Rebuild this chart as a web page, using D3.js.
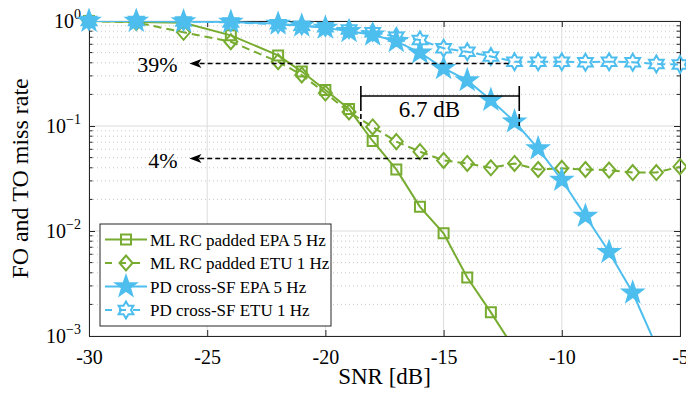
<!DOCTYPE html>
<html>
<head>
<meta charset="utf-8">
<script src="https://cdn.jsdelivr.net/npm/d3@7"></script>
<style>
  body { margin: 0; background: #fff; }
  text { font-family: "Liberation Serif", serif; fill: #000; }
</style>
</head>
<body>
<div id="chart"></div>
<script>
// values
const xTicks = [-30, -25, -20, -15, -10, -5];
const yTicks = [1e-3, 1e-2, 1e-1, 1];
const yTickExp = ["\u22123", "\u22122", "\u22121", "0"];

const snrMlEpa = [-30, -28, -26, -24, -22, -21, -20, -19, -18, -17, -16, -15, -14, -13, -12];
const mlEpa = [1, 0.98, 0.96, 0.73, 0.47, 0.33, 0.22, 0.145, 0.072, 0.0386, 0.017, 0.0095, 0.0036, 0.00168, 0.00075];

const snrMlEtu = [-30, -28, -26, -24, -22, -21, -20, -19, -18, -17, -16, -15, -14, -13, -12, -11, -10, -9, -8, -7, -6, -5];
const mlEtu = [1, 0.97, 0.78, 0.635, 0.41, 0.306, 0.206, 0.136, 0.098, 0.071, 0.057, 0.047, 0.044, 0.040, 0.044, 0.0385, 0.0395, 0.0385, 0.038, 0.036, 0.036, 0.041];

const snrPdEpa = [-30, -28, -26, -24, -22, -21, -20, -19, -18, -17, -16, -15, -14, -13, -12, -11, -10, -9, -8, -7, -6];
const pdEpa = [1, 1, 0.99, 0.98, 0.94, 0.9, 0.86, 0.8, 0.74, 0.64, 0.5, 0.355, 0.272, 0.177, 0.11, 0.061, 0.0306, 0.0139, 0.0063, 0.00258, 0.0008];

const snrPdEtu = [-30, -28, -26, -24, -22, -21, -20, -19, -18, -17, -16, -15, -14, -13, -12, -11, -10, -9, -8, -7, -6, -5];
const pdEtu = [1, 1, 0.99, 0.97, 0.93, 0.9, 0.87, 0.83, 0.78, 0.71, 0.66, 0.55, 0.51, 0.46, 0.41, 0.41, 0.41, 0.405, 0.41, 0.405, 0.39, 0.385];

const legendLabels = ["ML RC padded EPA 5 Hz", "ML RC padded ETU 1 Hz", "PD cross-SF EPA 5 Hz", "PD cross-SF ETU 1 Hz"];

// annotations: [label, level, from snr, to snr]
const arrowLabels = ["39%", "4%"];
const arrowLevels = [0.394, 0.049];
const arrowFrom = [-12.25, -15.65];
const arrowTo = [-25.75, -25.75];
const gapSnr = [-18.5, -11.8];
const gapLabel = "6.7 dB";

const width = 686, height = 398;
const margin = { top: 21, right: 6, bottom: 62, left: 89 };
const green = "#77AC30", blue = "#4DBEEE";

const svg = d3.select("#chart").append("svg")
  .attr("width", width)
  .attr("height", height);

const x = d3.scaleLinear()
  .domain([-30, -5])
  .range([margin.left, width - margin.right]);

const y = d3.scaleLog()
  .domain([1e-3, 1])
  .range([height - margin.bottom, margin.top]);

const minorY = [];
[-3, -2, -1].forEach(k => { for (let m = 2; m < 10; m++) minorY.push(m * Math.pow(10, k)); });

// grid
const grid = svg.append("g");
grid.selectAll(".minor").data(minorY).join("line")
  .attr("x1", x.range()[0]).attr("x2", x.range()[1])
  .attr("y1", d => y(d)).attr("y2", d => y(d))
  .attr("stroke", "#c8c8c8").attr("stroke-width", 1).attr("stroke-dasharray", "1,3");
grid.selectAll(".majy").data(yTicks).join("line")
  .attr("x1", x.range()[0]).attr("x2", x.range()[1])
  .attr("y1", d => y(d)).attr("y2", d => y(d))
  .attr("stroke", "#dcdcdc").attr("stroke-width", 1);
grid.selectAll(".majx").data(xTicks).join("line")
  .attr("x1", d => x(d)).attr("x2", d => x(d))
  .attr("y1", y.range()[0]).attr("y2", y.range()[1])
  .attr("stroke", "#dcdcdc").attr("stroke-width", 1);

// axes, ticks inside
const axisColor = "#262626";
const xAxis = svg.append("g")
  .attr("transform", `translate(0,${y.range()[0]})`)
  .call(d3.axisBottom(x).tickValues(xTicks).tickSize(-6).tickPadding(14).tickFormat(d => String(d)));
const xTop = svg.append("g")
  .attr("transform", `translate(0,${y.range()[1]})`)
  .call(d3.axisTop(x).tickValues(xTicks).tickSize(-6).tickFormat(""));
const yLeft = svg.append("g")
  .attr("transform", `translate(${x.range()[0]},0)`)
  .call(d3.axisLeft(y).tickValues(yTicks).tickSize(-6).tickFormat(""));
const yRight = svg.append("g")
  .attr("transform", `translate(${x.range()[1]},0)`)
  .call(d3.axisRight(y).tickValues(yTicks).tickSize(-6).tickFormat(""));
[xAxis, xTop, yLeft, yRight].forEach(g => {
  g.select(".domain").attr("stroke", axisColor).attr("stroke-width", 1);
  g.selectAll(".tick line").attr("stroke", axisColor);
});
xAxis.selectAll(".tick text")
  .style("font-family", "Liberation Serif").style("font-size", "20px").attr("fill", "#000");

// minor ticks left/right
[[x.range()[0], 1], [x.range()[1], -1]].forEach(([px, dir]) => {
  svg.append("g").selectAll("line").data(minorY).join("line")
    .attr("x1", px).attr("x2", px + dir * 3.5)
    .attr("y1", d => y(d)).attr("y2", d => y(d))
    .attr("stroke", axisColor);
});

// y tick labels 10^k
const yLab = svg.append("g").selectAll("text").data(yTicks).join("text")
  .attr("x", x.range()[0] - 8)
  .attr("y", d => y(d) + 7)
  .attr("text-anchor", "end")
  .style("font-size", "20px");
yLab.append("tspan").text("10");
yLab.append("tspan").attr("dy", -9).style("font-size", "14px").text((d, i) => yTickExp[i]);

// axis labels
svg.append("text")
  .attr("x", (x.range()[0] + x.range()[1]) / 2)
  .attr("y", 384)
  .attr("text-anchor", "middle")
  .style("font-size", "23px")
  .text("SNR [dB]");
svg.append("text")
  .attr("transform", `translate(28,${(y.range()[0] + y.range()[1]) / 2}) rotate(-90)`)
  .attr("text-anchor", "middle")
  .style("font-size", "24px")
  .text("FO and TO miss rate");

// markers
function starPath(n, rOut, rIn) {
  const pts = [];
  for (let i = 0; i < 2 * n; i++) {
    const r = i % 2 ? rIn : rOut;
    const a = -Math.PI / 2 + i * Math.PI / n;
    pts.push([r * Math.cos(a), r * Math.sin(a)]);
  }
  return "M" + pts.map(p => p[0].toFixed(2) + "," + p[1].toFixed(2)).join("L") + "Z";
}
const markerShapes = {
  square: { d: "M-5,-5H5V5H-5Z", fill: "none" },
  diamond: { d: "M0,-7.5L6.5,0L0,7.5L-6.5,0Z", fill: "none" },
  pentagram: { d: starPath(5, 10.5, 4.2), fill: true },
  hexagram: { d: starPath(6, 8.5, 4.9), fill: "none" }
};

const series = [
  { xs: snrMlEpa, ys: mlEpa, color: green, dash: null, marker: "square" },
  { xs: snrMlEtu, ys: mlEtu, color: green, dash: "8,5", marker: "diamond" },
  { xs: snrPdEpa, ys: pdEpa, color: blue, dash: null, marker: "pentagram" },
  { xs: snrPdEtu, ys: pdEtu, color: blue, dash: "8,5", marker: "hexagram" }
];

svg.append("clipPath").attr("id", "plotclip")
  .append("rect")
  .attr("x", x.range()[0]).attr("y", y.range()[1])
  .attr("width", x.range()[1] - x.range()[0])
  .attr("height", y.range()[0] - y.range()[1]);

const line = d3.line().x(d => x(d[0])).y(d => y(d[1]));

function drawMarker(g, shape, color) {
  const m = markerShapes[shape];
  g.append("path")
    .attr("d", m.d)
    .attr("fill", m.fill === true ? color : "none")
    .attr("stroke", color)
    .attr("stroke-width", 2)
    .attr("stroke-linejoin", "miter");
}

series.forEach(s => {
  const pts = s.xs.map((v, i) => [v, s.ys[i]]);
  const g = svg.append("g");
  g.append("path")
    .attr("clip-path", "url(#plotclip)")
    .attr("d", line(pts))
    .attr("fill", "none")
    .attr("stroke", s.color)
    .attr("stroke-width", 2)
    .attr("stroke-dasharray", s.dash);
  pts.filter(p => p[1] >= 1e-3).forEach(p => {
    const mg = g.append("g").attr("transform", `translate(${x(p[0])},${y(p[1])})`);
    drawMarker(mg, s.marker, s.color);
  });
});

// annotation arrows
arrowLabels.forEach((lab, i) => {
  const py = y(arrowLevels[i]);
  const x0 = x(arrowFrom[i]), x1 = x(arrowTo[i]);
  svg.append("line")
    .attr("x1", x0).attr("x2", x1 + 8)
    .attr("y1", py).attr("y2", py)
    .attr("stroke", "#000").attr("stroke-width", 1.6).attr("stroke-dasharray", "5,3");
  svg.append("path")
    .attr("transform", `translate(${x1},${py})`)
    .attr("d", "M0,0L12,-4.5L9,0L12,4.5Z")
    .attr("fill", "#000");
  svg.append("text")
    .attr("x", x1 - 12).attr("y", py + 9)
    .attr("text-anchor", "end")
    .style("font-size", "22px")
    .text(lab);
});

// 6.7 dB bracket
const by = 96;
const bx0 = x(gapSnr[0]), bx1 = x(gapSnr[1]);
svg.append("line").attr("x1", bx0).attr("x2", bx1).attr("y1", by).attr("y2", by)
  .attr("stroke", "#000").attr("stroke-width", 1.6);
[bx0, bx1].forEach(bx => {
  svg.append("line").attr("x1", bx).attr("x2", bx).attr("y1", by - 10).attr("y2", by + 10)
    .attr("stroke", "#000").attr("stroke-width", 1.6);
  svg.append("line").attr("x1", bx).attr("x2", bx).attr("y1", by + 10).attr("y2", y(0.1))
    .attr("stroke", "#000").attr("stroke-width", 1.6).attr("stroke-dasharray", "5,3");
});
svg.append("text")
  .attr("x", x(-15.6)).attr("y", 117)
  .attr("text-anchor", "middle")
  .style("font-size", "23px")
  .text(gapLabel);

// legend
const lg = svg.append("g").attr("transform", "translate(100,224)");
lg.append("rect").attr("width", 231).attr("height", 102)
  .attr("fill", "#fff").attr("stroke", axisColor).attr("stroke-width", 1);
series.forEach((s, i) => {
  const ry = 15.5 + i * 23.5;
  lg.append("line").attr("x1", 5).attr("x2", 47).attr("y1", ry).attr("y2", ry)
    .attr("stroke", s.color).attr("stroke-width", 2)
    .attr("stroke-dasharray", s.dash ? "7,7" : null);
  const mg = lg.append("g").attr("transform", `translate(26,${ry})`);
  drawMarker(mg, s.marker, s.color);
  lg.append("text").attr("x", 50).attr("y", ry + 6)
    .style("font-size", "17px")
    .text(legendLabels[i]);
});
</script>
</body>
</html>
